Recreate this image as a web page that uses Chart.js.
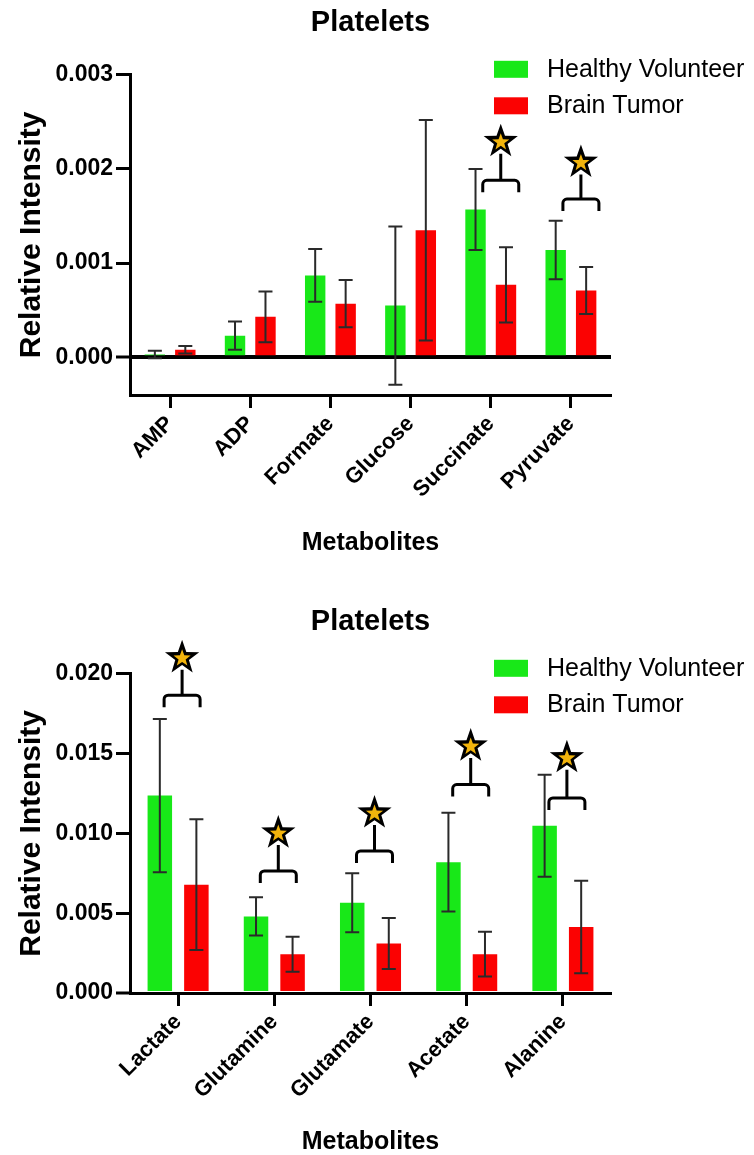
<!DOCTYPE html>
<html lang="en">
<head>
<meta charset="UTF-8">
<script src="https://cdn.jsdelivr.net/npm/chart.js"></script>
<style>
  html, body { margin: 0; padding: 0; background: #fff; }
  canvas { display: block; }
</style>
</head>
<body>
<canvas id="topChart" width="754" height="570"></canvas>
<canvas id="bottomChart" width="754" height="585"></canvas>
<script>
// top panel
const topLabels = ['AMP', 'ADP', 'Formate', 'Glucose', 'Succinate', 'Pyruvate'];
const topHealthy = [0.00003, 0.00023, 0.00087, 0.00055, 0.00157, 0.00114];
const topHealthyErr = [0.00004, 0.00015, 0.00028, 0.00084, 0.00043, 0.00031];
const topTumor = [0.00008, 0.00043, 0.00057, 0.00135, 0.00077, 0.00071];
const topTumorErr = [0.00004, 0.00027, 0.00025, 0.00117, 0.0004, 0.00025];
const topStars = [null, null, null, null, 0.00229, 0.00207];
const topBrackets = [null, null, null, null, 0.00188, 0.00168];

// bottom panel
const botLabels = ['Lactate', 'Glutamine', 'Glutamate', 'Acetate', 'Alanine'];
const botHealthy = [0.01237, 0.0048, 0.00566, 0.0082, 0.01048];
const botHealthyErr = [0.0048, 0.0012, 0.00185, 0.0031, 0.0032];
const botTumor = [0.00679, 0.00243, 0.0031, 0.00243, 0.00413];
const botTumorErr = [0.0041, 0.0011, 0.0016, 0.0014, 0.0029];
const botStars = [0.0210, 0.01002, 0.01128, 0.01547, 0.01474];
const botBrackets = [0.01866, 0.00765, 0.0089, 0.01306, 0.01222];

const GREEN = '#18e818';
const RED = '#fb0202';
const FONT = "'Liberation Sans', Arial, sans-serif";

Chart.defaults.font.family = FONT;
Chart.defaults.color = '#000';

function starPath(ctx, cx, cy, R, r) {
  ctx.beginPath();
  for (let k = 0; k < 10; k++) {
    const rad = k % 2 === 0 ? R : r;
    const a = -Math.PI / 2 + k * Math.PI / 5;
    const px = cx + rad * Math.cos(a), py = cy + rad * Math.sin(a);
    if (k === 0) ctx.moveTo(px, py); else ctx.lineTo(px, py);
  }
  ctx.closePath();
}

// error bars, significance stars and the legend
const extras = {
  id: 'extras',
  afterDatasetsDraw(chart, args, opts) {
    const ctx = chart.ctx;
    const ys = chart.scales.y, xs = chart.scales.x;
    ctx.save();
    ctx.strokeStyle = '#2a2a2a';
    ctx.lineWidth = 2;
    chart.data.datasets.forEach((ds, i) => {
      chart.getDatasetMeta(i).data.forEach((bar, j) => {
        const v = ds.data[j], e = ds.errors[j];
        const t = ys.getPixelForValue(v + e), b = ys.getPixelForValue(v - e);
        ctx.beginPath();
        ctx.moveTo(bar.x, t); ctx.lineTo(bar.x, b);
        ctx.moveTo(bar.x - opts.cap, t); ctx.lineTo(bar.x + opts.cap, t);
        ctx.moveTo(bar.x - opts.cap, b); ctx.lineTo(bar.x + opts.cap, b);
        ctx.stroke();
      });
    });

    // brackets + stars
    opts.stars.forEach((sv, j) => {
      if (sv == null) return;
      const cx = xs.getPixelForValue(j) + opts.markOffset;
      const cy = ys.getPixelForValue(sv);
      const by = ys.getPixelForValue(opts.brackets[j]);
      const hw = 18, arm = 12, rr = 4;
      ctx.strokeStyle = '#000';
      ctx.lineWidth = 3;
      ctx.beginPath();
      ctx.moveTo(cx - hw, by + arm);
      ctx.arcTo(cx - hw, by, cx, by, rr);
      ctx.arcTo(cx + hw, by, cx + hw, by + arm, rr);
      ctx.lineTo(cx + hw, by + arm);
      ctx.moveTo(cx, by);
      ctx.lineTo(cx, cy + 12);
      ctx.stroke();
      ctx.fillStyle = '#000';
      starPath(ctx, cx, cy, 18, 7.2);
      ctx.fill();
      ctx.fillStyle = '#f2b40c';
      starPath(ctx, cx, cy + 0.5, 9, 3.7);
      ctx.fill();
    });

    // legend
    const lx = chart.chartArea.right - 117;
    let ly = chart.chartArea.top - 14;
    ctx.font = '25px ' + FONT;
    ctx.textBaseline = 'middle';
    ctx.textAlign = 'left';
    chart.data.datasets.forEach((ds) => {
      ctx.fillStyle = ds.backgroundColor;
      ctx.fillRect(lx, ly, 34, 17);
      ctx.fillStyle = '#000';
      ctx.fillText(ds.label, lx + 53, ly + 9);
      ly += 36.5;
    });
    ctx.restore();
  }
};

function makeChart(id, labels, healthy, hErr, tumor, tErr, stars, brackets, yMin, yMax, step, cfg) {
  new Chart(document.getElementById(id), {
    type: 'bar',
    data: {
      labels: labels,
      datasets: [
        { label: 'Healthy Volunteer', data: healthy, errors: hErr, backgroundColor: GREEN },
        { label: 'Brain Tumor', data: tumor, errors: tErr, backgroundColor: RED }
      ]
    },
    options: {
      responsive: false,
      animation: false,
      categoryPercentage: 0.76,
      barPercentage: 0.67,
      layout: { padding: { left: 0, right: 143, top: 0, bottom: 0 } },
      plugins: {
        legend: { display: false },
        tooltip: { enabled: false },
        title: {
          display: true,
          text: 'Platelets',
          fullSize: false,
          font: { size: 29, weight: 'bold' },
          padding: { top: cfg.titleTop, bottom: cfg.titleBottom }
        },
        extras: { cap: 7, stars: stars, brackets: brackets, markOffset: cfg.markOffset }
      },
      scales: {
        x: {
          afterFit: (s) => { s.height = cfg.xHeight; },
          grid: { drawOnChartArea: false, offset: false, tickLength: 13, tickWidth: 3, tickColor: '#000' },
          border: { color: '#000', width: 3 },
          ticks: { autoSkip: false, minRotation: 45, maxRotation: 45, font: { size: 22, weight: 'bold' }, color: '#000' },
          title: { display: true, text: 'Metabolites', font: { size: 25, weight: 'bold', lineHeight: 1 }, padding: { top: 0, bottom: cfg.xTitleBottom } }
        },
        y: {
          min: yMin,
          max: yMax,
          afterFit: (s) => { s.width = 130; },
          afterBuildTicks: (s) => { s.ticks = s.ticks.filter(t => t.value >= 0); },
          grid: {
            drawOnChartArea: yMin < 0,
            color: (c) => (c.tick && c.tick.value === 0 ? '#000' : 'rgba(0,0,0,0)'),
            lineWidth: (c) => (c.tick && c.tick.value === 0 ? 4 : 1),
            tickLength: 14, tickWidth: 3, tickColor: '#000'
          },
          border: { color: '#000', width: 3 },
          ticks: { stepSize: step, padding: 3, font: { size: 23, weight: 'bold' }, color: '#000', callback: (v) => v.toFixed(3) },
          title: { display: true, text: 'Relative Intensity', font: { size: 30, weight: 'bold' }, padding: { top: 14, bottom: 0 } }
        }
      }
    },
    plugins: [extras]
  });
}

makeChart('topChart', topLabels, topHealthy, topHealthyErr, topTumor, topTumorErr, topStars, topBrackets,
  -0.0004, 0.003, 0.001, { titleTop: 6, titleBottom: 34, xHeight: 175, xTitleBottom: 14, markOffset: 10 });
makeChart('bottomChart', botLabels, botHealthy, botHealthyErr, botTumor, botTumorErr, botStars, botBrackets,
  0, 0.020, 0.005, { titleTop: 35, titleBottom: 34, xHeight: 162, xTitleBottom: 0, markOffset: 4 });
</script>
</body>
</html>
